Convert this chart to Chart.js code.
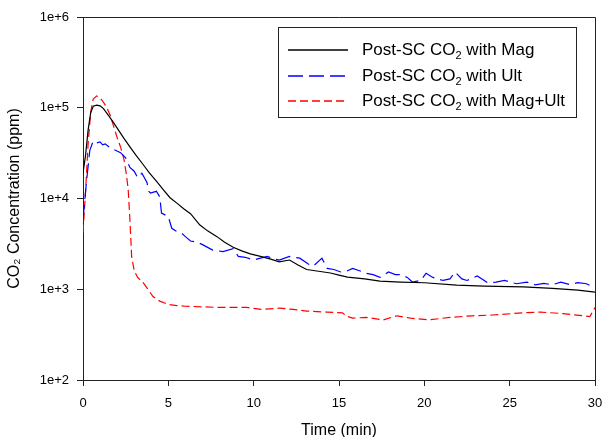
<!DOCTYPE html>
<html><head><meta charset="utf-8">
<script src="https://cdn.jsdelivr.net/npm/chart.js@4/dist/chart.umd.min.js"></script>
<style>html,body{margin:0;padding:0;background:#fff}</style>
</head><body>
<canvas id="c" width="603" height="437"></canvas>
<script>
// ---- data ----
const seriesLabels = ['Post-SC CO₂ with Mag', 'Post-SC CO₂ with Ult', 'Post-SC CO₂ with Mag+Ult'];
const seriesColors = ['#000000', '#0000ff', '#ff0000'];
const seriesDashes = [[], [15, 6], [8, 4]];

const magTime = [0, 0.15, 0.3, 0.45, 0.6, 0.8, 1.0, 1.2, 1.5, 1.8, 2.1, 2.4, 2.75, 3.1, 3.5, 3.9, 4.3, 4.7, 5.1, 5.5, 5.9, 6.3, 6.85, 7.3, 7.85, 8.3, 8.8, 9.3, 9.8, 10.4, 11.0, 11.5, 12.1, 12.6, 13.1, 13.8, 14.5, 15.0, 15.5, 16.5, 17.4, 18.6, 20, 21.9, 23.5, 25.8, 27.5, 29, 30];
const magValues = [19000, 30000, 57000, 88000, 104000, 107000, 105000, 98000, 82000, 68000, 56000, 46000, 37000, 30000, 24000, 19000, 15500, 12500, 10200, 8900, 7700, 6800, 5100, 4400, 3800, 3300, 2900, 2650, 2450, 2300, 2150, 2000, 2100, 1850, 1650, 1580, 1510, 1430, 1360, 1300, 1230, 1200, 1180, 1110, 1080, 1060, 1020, 980, 930];

const ultTime = [0, 0.2, 0.4, 0.6, 0.8, 1.0, 1.15, 1.3, 1.6, 1.9, 2.2, 2.5, 2.75, 3.0, 3.2, 3.45, 3.75, 3.85, 3.95, 4.3, 4.5, 4.6, 4.8, 5.0, 5.2, 5.6, 5.8, 6.0, 6.3, 6.7, 7.0, 7.6, 8.2, 8.8, 9.1, 9.5, 10.0, 10.4, 10.8, 11.2, 11.5, 12.1, 12.7, 13.2, 13.5, 14.0, 14.3, 14.7, 15.1, 15.5, 15.8, 16.2, 16.6, 17.0, 17.4, 17.9, 18.3, 18.6, 19.0, 19.3, 19.8, 20.1, 20.5, 21.1, 21.5, 21.8, 22.2, 22.5, 23.1, 23.7, 24.2, 24.7, 25.4, 26.0, 26.5, 27.0, 27.5, 28.0, 28.5, 29.0, 29.5, 29.9, 30];
const ultValues = [5800, 15000, 34000, 43000, 41000, 42000, 39000, 40000, 36000, 34000, 32000, 28000, 22000, 20000, 17000, 19000, 15000, 12000, 11500, 12000, 10400, 6900, 6600, 6300, 4700, 4200, 4100, 3800, 3400, 3300, 3100, 2700, 2600, 2800, 2300, 2250, 2100, 2200, 2300, 2150, 2100, 2300, 2200, 1900, 1800, 2200, 1700, 1650, 1550, 1600, 1700, 1600, 1500, 1450, 1350, 1550, 1450, 1450, 1350, 1200, 1250, 1500, 1350, 1250, 1300, 1550, 1300, 1250, 1400, 1180, 1200, 1250, 1150, 1200, 1120, 1160, 1120, 1200, 1130, 1180, 1150, 1050, 1050];

const magUltTime = [0, 0.15, 0.3, 0.45, 0.6, 0.8, 1.0, 1.2, 1.4, 1.6, 1.8, 2.0, 2.2, 2.4, 2.55, 2.65, 2.75, 2.85, 3.0, 3.2, 3.5, 3.8, 4.1, 4.5, 5.0, 5.5, 6, 7, 8, 9, 9.6, 10.5, 11.5, 12.3, 13.1, 14.3, 15.2, 15.5, 15.8, 16.6, 17.6, 18.4, 19.2, 20.3, 21.5, 22.8, 24, 25.8, 26.8, 28.1, 29.3, 29.7, 30];
const magUltValues = [4200, 12000, 40000, 90000, 125000, 135000, 128000, 115000, 100000, 82000, 62000, 47000, 37000, 27000, 18000, 12400, 5800, 2300, 1600, 1350, 1200, 1000, 830, 740, 680, 660, 650, 640, 630, 630, 630, 600, 620, 600, 575, 560, 550, 500, 480, 490, 460, 510, 480, 460, 490, 510, 520, 550, 560, 540, 510, 500, 630];

const yTickValues = [100, 1000, 10000, 100000, 1000000];
const yTickLabels = ['1e+2', '1e+3', '1e+4', '1e+5', '1e+6'];
const xTickValues = [0, 5, 10, 15, 20, 25, 30];

const FONT = 'Arial, "Liberation Sans", sans-serif';
const toXY = (t, v) => t.map((x, i) => ({x: x, y: v[i]}));

const framePlugin = {
  id: 'frame',
  afterDraw(chart) {
    const {ctx, chartArea: a} = chart;
    ctx.save();
    ctx.strokeStyle = '#222';
    ctx.lineWidth = 1;
    ctx.beginPath();
    ctx.moveTo(a.left, a.top + 0.5);
    ctx.lineTo(a.right + 0.5, a.top + 0.5);
    ctx.lineTo(a.right + 0.5, a.bottom);
    ctx.stroke();
    ctx.restore();
  }
};

const legendPlugin = {
  id: 'boxLegend',
  afterDraw(chart) {
    const ctx = chart.ctx;
    ctx.save();
    ctx.strokeStyle = '#222';
    ctx.lineWidth = 1;
    ctx.setLineDash([]);
    ctx.strokeRect(278.5, 27.5, 298, 90);
    const rows = [50, 76, 101];
    for (let i = 0; i < seriesLabels.length; i++) {
      const y = rows[i];
      ctx.save();
      ctx.strokeStyle = seriesColors[i];
      ctx.lineWidth = 1.5;
      ctx.setLineDash(seriesDashes[i].slice());
      ctx.beginPath();
      ctx.moveTo(288, y);
      ctx.lineTo(348, y);
      ctx.stroke();
      ctx.restore();
      ctx.fillStyle = '#000';
      ctx.textBaseline = 'middle';
      const parts = seriesLabels[i].split('₂');
      let x = 362;
      ctx.font = '17px ' + FONT;
      ctx.fillText(parts[0], x, y);
      x += ctx.measureText(parts[0]).width;
      ctx.font = '11px ' + FONT;
      ctx.fillText('2', x, y + 6);
      x += ctx.measureText('2').width;
      ctx.font = '17px ' + FONT;
      ctx.fillText(parts[1], x, y);
    }
    ctx.restore();
  }
};

new Chart(document.getElementById('c'), {
  type: 'line',
  data: {
    datasets: [
      {label: seriesLabels[0], data: toXY(magTime, magValues), borderColor: seriesColors[0], borderWidth: 1.2, borderDash: seriesDashes[0], pointRadius: 0, tension: 0, fill: false},
      {label: seriesLabels[1], data: toXY(ultTime, ultValues), borderColor: seriesColors[1], borderWidth: 1.2, borderDash: seriesDashes[1], pointRadius: 0, tension: 0, fill: false},
      {label: seriesLabels[2], data: toXY(magUltTime, magUltValues), borderColor: seriesColors[2], borderWidth: 1.2, borderDash: seriesDashes[2], pointRadius: 0, tension: 0, fill: false}
    ]
  },
  options: {
    responsive: false,
    animation: false,
    layout: {padding: {left: 0, right: 8, top: 17, bottom: 0}},
    plugins: {legend: {display: false}, tooltip: {enabled: false}},
    scales: {
      x: {
        type: 'linear', min: 0, max: 30,
        afterBuildTicks: s => { s.ticks = xTickValues.map(v => ({value: v})); },
        afterFit: s => { s.height = 57; s.paddingRight = 0; },
        ticks: {color: '#000', font: {size: 13, family: FONT}, padding: 10, maxRotation: 0},
        grid: {drawOnChartArea: false, drawTicks: true, tickLength: 6, color: '#222'},
        border: {color: '#222', width: 1},
        title: {display: true, text: 'Time (min)', color: '#000', font: {size: 16, family: FONT, lineHeight: 1}, padding: {top: 0, bottom: -2}}
      },
      y: {
        type: 'logarithmic', min: 100, max: 1000000,
        afterBuildTicks: s => { s.ticks = yTickValues.map(v => ({value: v})); },
        afterFit: s => { s.width = 83; },
        ticks: {color: '#000', font: {size: 13, family: FONT}, padding: 8,
          callback: v => { const i = yTickValues.indexOf(v); return i >= 0 ? yTickLabels[i] : ''; }},
        grid: {drawOnChartArea: false, drawTicks: true, tickLength: 6, color: '#222'},
        border: {color: '#222', width: 1},
        title: {display: true, text: 'CO₂ Concentration (ppm)', color: '#000', font: {size: 16, family: FONT, lineHeight: 1}, padding: {top: 7, bottom: 0}}
      }
    }
  },
  plugins: [framePlugin, legendPlugin]
});
</script>
</body></html>
